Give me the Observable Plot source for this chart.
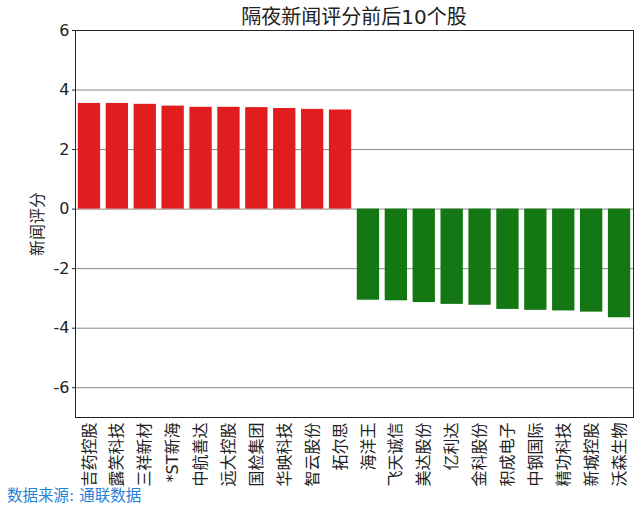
<!DOCTYPE html>
<html>
<head>
<meta charset="utf-8">
<script src="https://cdn.jsdelivr.net/npm/d3@7"></script>
<script src="https://cdn.jsdelivr.net/npm/@observablehq/plot@0.6"></script>
<style>
  body { margin: 0; background: #fff; }
  #wrap { position: relative; width: 640px; height: 511px; font-family: "DejaVu Sans", "Noto Sans CJK SC", sans-serif; }
  #title { position: absolute; left: 75px; width: 558px; top: 1px; text-align: center; font-size: 20px; color: #222; }
  #caption { position: absolute; left: 7px; top: 483px; font-size: 15.5px; color: #2583d8; }
  #chart { position: absolute; left: 0; top: 0; }
</style>
</head>
<body>
<div id="wrap">
  <div id="chart"></div>
  <div id="title">隔夜新闻评分前后10个股</div>
  <div id="caption">数据来源: 通联数据</div>
</div>
<script>
const names = ["吉药控股","露笑科技","三祥新材","*ST新海","中航善达","远大控股","国检集团","华映科技","智云股份","拓尔思",
               "海洋王","飞天诚信","美达股份","亿利达","金科股份","积成电子","中钢国际","精功科技","新城控股","沃森生物"];
const scores = [3.55, 3.55, 3.52, 3.46, 3.42, 3.42, 3.41, 3.38, 3.35, 3.33,
                -3.06, -3.08, -3.14, -3.20, -3.23, -3.37, -3.40, -3.42, -3.46, -3.65];
const yTicks = [-6, -4, -2, 0, 2, 4, 6];
const yLabel = "新闻评分";

const data = names.map((n, i) => ({name: n, score: scores[i]}));

const chart = Plot.plot({
  width: 640,
  height: 511,
  marginLeft: 75,
  marginRight: 7,
  marginTop: 30,
  marginBottom: 94,
  style: {fontFamily: "'DejaVu Sans', 'Noto Sans CJK SC', sans-serif", fontSize: "14px", color: "#222", background: "transparent"},
  x: {domain: names, paddingInner: 0.2, paddingOuter: 0.1, round: false, label: null},
  y: {domain: [-7, 6], ticks: yTicks, label: null},
  marks: [
    Plot.gridY(yTicks, {stroke: "#888", strokeOpacity: 1, strokeWidth: 1}),
    Plot.barY(data, {x: "name", y: "score", fill: d => d.score >= 0 ? "#e21d1f" : "#137713"}),
    Plot.axisY({ticks: yTicks, tickSize: 3, tickPadding: 3, fontSize: 16, tickFormat: d => String(d), label: null}),
    Plot.axisY({ticks: [], tickSize: 0, fontSize: 16, label: yLabel, labelAnchor: "center", labelArrow: "none", labelOffset: 44}),
    Plot.axisX({tickRotate: -90, tickSize: 0, tickPadding: 5, fontSize: 16, label: null}),
    Plot.frame({stroke: "#222", strokeWidth: 1})
  ]
});
document.getElementById("chart").appendChild(chart);
</script>
</body>
</html>
